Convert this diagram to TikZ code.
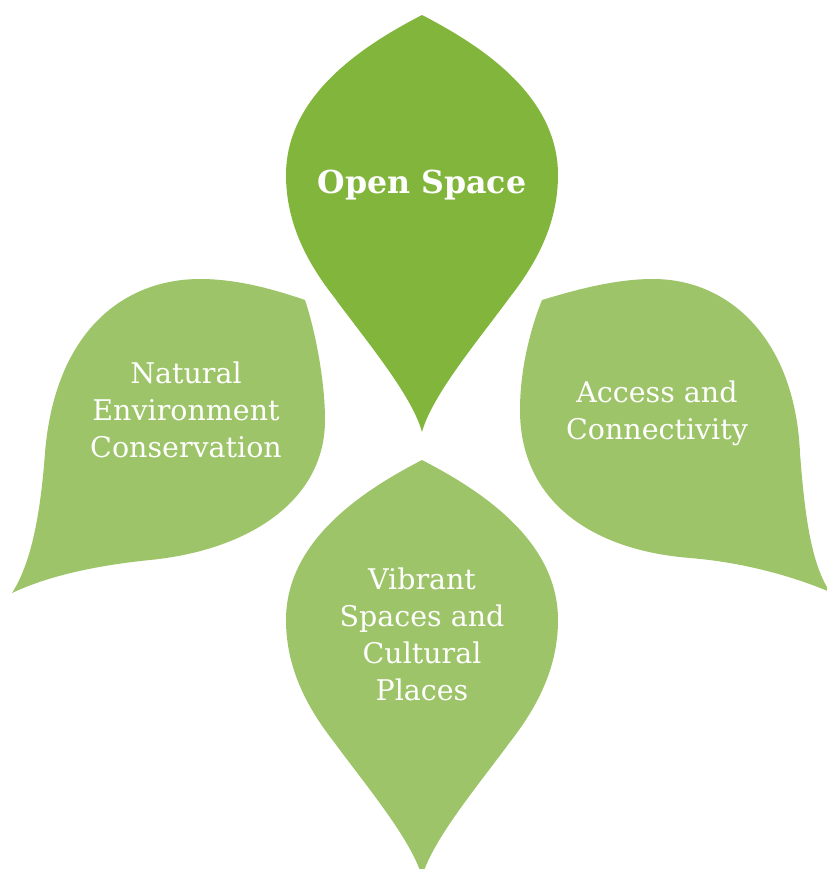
\documentclass[tikz,border=0pt]{standalone}
\usepackage{fontspec}
\setmainfont{DejaVu Serif}
\usepackage{tikz}
\usetikzlibrary{positioning}

\definecolor{leafdark}{HTML}{82B53B}
\definecolor{leaflight}{HTML}{9DC468}

\tikzset{
  leaftext/.style={text=white, align=center, font=\fontsize{8.1}{10.5}\selectfont},
  headtext/.style={text=white, align=center, font=\fontsize{9}{11}\selectfont\bfseries},
}

\begin{document}
\begin{tikzpicture}[x=0.01cm,y=-0.01cm]
\useasboundingbox (0,0) rectangle (827,869);

% top leaf
\fill[leafdark] (422,15) .. controls (480,45) and (558,95) .. (558,175)
  .. controls (558,225) and (535,265) .. (510,297)
  .. controls (480,338) and (432,395) .. (422,432)
  .. controls (412,395) and (364,338) .. (334,297)
  .. controls (309,265) and (286,225) .. (286,175)
  .. controls (286,95) and (364,45) .. (422,15) -- cycle;
\node (open) at (422,185) [headtext] {Open Space};

% bottom leaf
\begin{scope}[shift={(0,445)}]
\fill[leaflight] (422,15) .. controls (480,45) and (558,95) .. (558,175)
  .. controls (558,225) and (535,265) .. (510,297)
  .. controls (480,338) and (432,395) .. (422,432)
  .. controls (412,395) and (364,338) .. (334,297)
  .. controls (309,265) and (286,225) .. (286,175)
  .. controls (286,95) and (364,45) .. (422,15) -- cycle;
\end{scope}
\node (vibrant) at (422,634) [leaftext] {Vibrant\\Spaces and\\Cultural\\Places};

% left leaf
\fill[leaflight] (305,300) .. controls (270,288) and (235,279) .. (200,279)
  .. controls (125,279) and (55,330) .. (45,453)
  .. controls (40,520) and (30,565) .. (12,593)
  .. controls (50,575) and (100,565) .. (150,560)
  .. controls (250,550) and (325,500) .. (325,420)
  .. controls (325,380) and (315,330) .. (305,300) -- cycle;
\node (natural) at (186,410) [leaftext] {Natural\\Environment\\Conservation};

% right leaf
\fill[leaflight] (542,300) .. controls (575,290) and (615,279) .. (653,279)
  .. controls (730,279) and (795,340) .. (800,453)
  .. controls (805,520) and (812,565) .. (830,592)
  .. controls (790,575) and (740,562) .. (690,558)
  .. controls (590,550) and (520,500) .. (520,410)
  .. controls (520,370) and (530,330) .. (542,300) -- cycle;
\node (access) at (657,413) [leaftext] {Access and\\Connectivity};

\end{tikzpicture}
\end{document}
